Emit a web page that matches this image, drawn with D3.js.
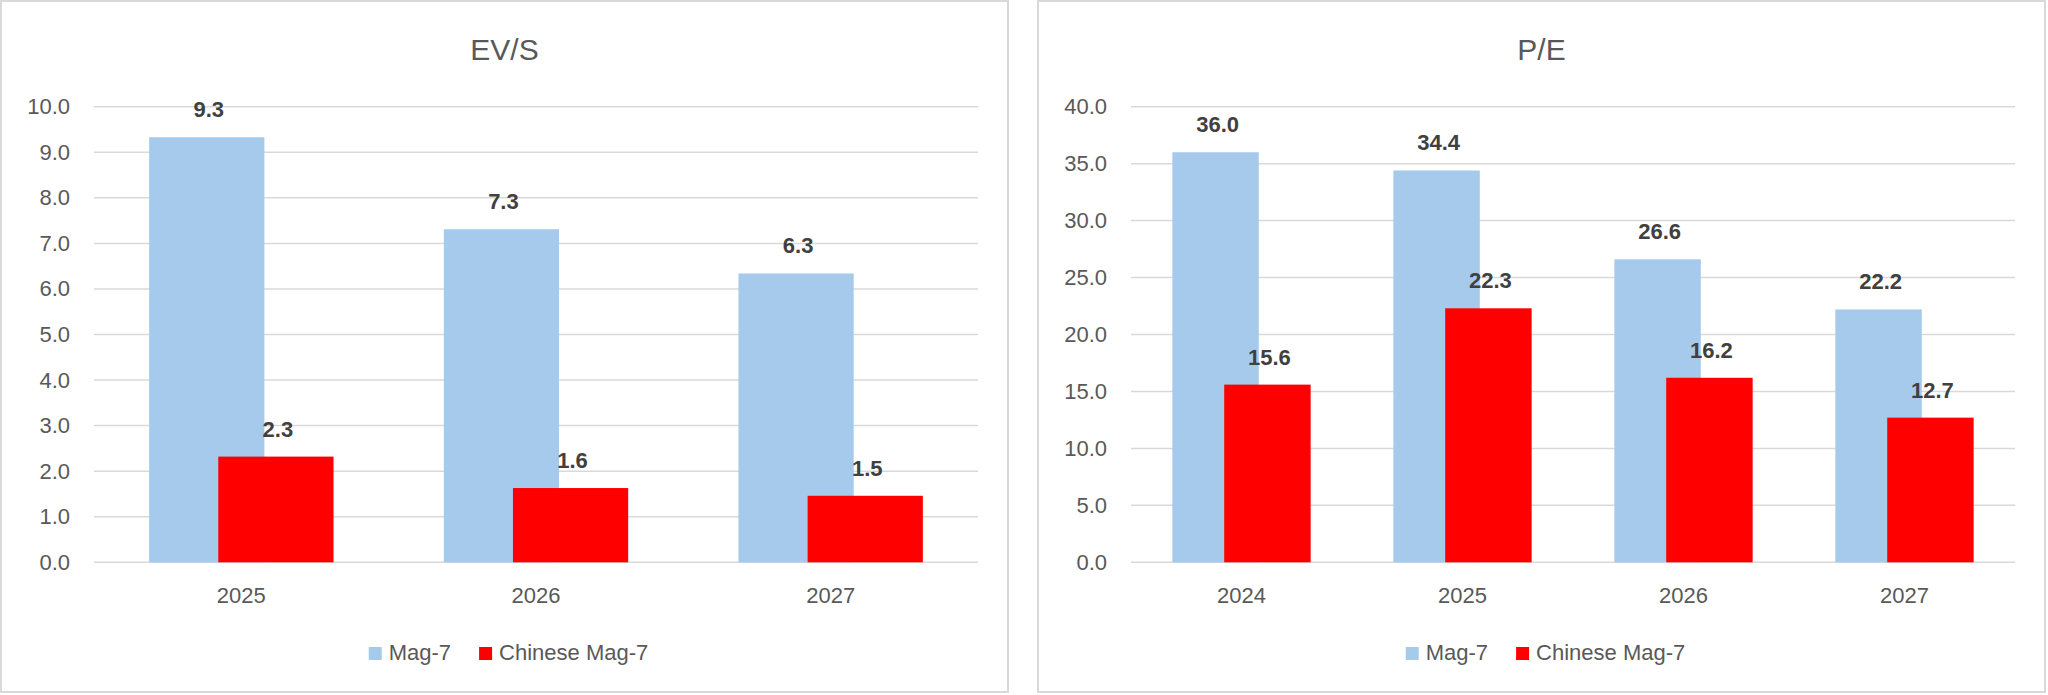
<!DOCTYPE html>
<html>
<head>
<meta charset="utf-8">
<script src="https://cdn.jsdelivr.net/npm/d3@7"></script>
<style>
    body { margin: 0; background: #ffffff; }
    svg { display: block; font-family: "Liberation Sans", Arial, sans-serif; }
</style>
</head>
<body>
<div id="chart"></div>
<script>
var seriesNames = ['Mag-7', 'Chinese Mag-7'];
var seriesColors = ['#a6caec', '#ff0000'];

var evsYears = ['2025', '2026', '2027'];
var evsMag7 = [9.33, 7.31, 6.34];
var evsChinese = [2.32, 1.63, 1.46];
var evsTicks = [0, 1, 2, 3, 4, 5, 6, 7, 8, 9, 10];

var peYears = ['2024', '2025', '2026', '2027'];
var peMag7 = [36.0, 34.4, 26.6, 22.2];
var peChinese = [15.6, 22.3, 16.2, 12.7];
var peTicks = [0, 5, 10, 15, 20, 25, 30, 35, 40];

var W = 2048;
var H = 695;

var svg = d3.select('#chart').append('svg')
    .attr('width', W)
    .attr('height', H)
    .attr('viewBox', '0 0 ' + W + ' ' + H);

function drawPanel(left, title, years, mag7, chinese, ticks) {
    var pw = 1007, ph = 691;
    var g = svg.append('g').attr('transform', 'translate(' + left + ',1)');

    g.append('rect')
        .attr('width', pw)
        .attr('height', ph)
        .attr('fill', '#ffffff')
        .attr('stroke', '#d9d9d9')
        .attr('stroke-width', 2);

    var plotLeft = 93, plotRight = pw - 30, plotTop = 105.7, plotBottom = 561.3;

    var x = d3.scaleBand().domain(years).range([plotLeft, plotRight]);
    var y = d3.scaleLinear().domain([0, d3.max(ticks)]).range([plotBottom, plotTop]);
    var fmt = d3.format('.1f');

    var band = x.bandwidth();
    var barW = band / 2.557;
    var step = barW * 0.6;

    g.append('text')
        .attr('x', pw / 2)
        .attr('y', 59)
        .attr('text-anchor', 'middle')
        .attr('font-size', '30px')
        .attr('fill', '#595959')
        .text(title);

    // gridlines
    g.append('g').selectAll('line')
        .data(ticks)
        .enter().append('line')
        .attr('x1', plotLeft)
        .attr('x2', plotRight)
        .attr('y1', function (d) { return y(d); })
        .attr('y2', function (d) { return y(d); })
        .attr('stroke', '#d9d9d9')
        .attr('stroke-width', 1.5);

    var yAxis = g.append('g')
        .attr('transform', 'translate(' + (plotLeft - 24) + ',0)')
        .call(d3.axisLeft(y).tickValues(ticks).tickFormat(fmt).tickSize(0).tickPadding(0));
    yAxis.select('.domain').remove();
    yAxis.selectAll('text')
        .attr('font-size', '22px')
        .attr('font-family', '"Liberation Sans", Arial, sans-serif')
        .attr('fill', '#595959');

    var xAxis = g.append('g')
        .attr('transform', 'translate(0,' + plotBottom + ')')
        .call(d3.axisBottom(x).tickSize(0).tickPadding(0));
    xAxis.select('.domain').remove();
    xAxis.selectAll('text')
        .attr('dy', null)
        .attr('y', 41)
        .attr('font-size', '22px')
        .attr('font-family', '"Liberation Sans", Arial, sans-serif')
        .attr('fill', '#595959');

    var rows = [mag7, chinese];
    rows.forEach(function (values, s) {
        var data = years.map(function (yr, i) { return {year: yr, value: values[i]}; });
        var bx = function (d) { return x(d.year) + band / 2 - (barW + step) / 2 + s * step; };

        g.append('g').selectAll('rect')
            .data(data)
            .enter().append('rect')
            .attr('x', bx)
            .attr('y', function (d) { return y(d.value); })
            .attr('width', barW)
            .attr('height', function (d) { return plotBottom - y(d.value); })
            .attr('fill', seriesColors[s]);

        g.append('g').selectAll('text')
            .data(data)
            .enter().append('text')
            .attr('x', function (d) { return bx(d) + barW / 2 + 2; })
            .attr('y', function (d) { return y(d.value) - 20; })
            .attr('text-anchor', 'middle')
            .attr('font-size', '22px')
            .attr('font-weight', 'bold')
            .attr('fill', '#404040')
            .text(function (d) { return fmt(d.value); });
    });

    // legend
    var lg = g.append('g');
    var cx = 0;
    seriesNames.forEach(function (name, s) {
        if (s > 0) cx += 28;
        lg.append('rect')
            .attr('x', cx)
            .attr('y', 646)
            .attr('width', 13)
            .attr('height', 13)
            .attr('fill', seriesColors[s]);
        cx += 20;
        var t = lg.append('text')
            .attr('x', cx)
            .attr('y', 659)
            .attr('font-size', '22px')
            .attr('fill', '#595959')
            .text(name);
        cx += t.node().getComputedTextLength();
    });
    lg.attr('transform', 'translate(' + (pw / 2 + 4 - cx / 2) + ',0)');
}

drawPanel(1, 'EV/S', evsYears, evsMag7, evsChinese, evsTicks);
drawPanel(1038, 'P/E', peYears, peMag7, peChinese, peTicks);
</script>
</body>
</html>
